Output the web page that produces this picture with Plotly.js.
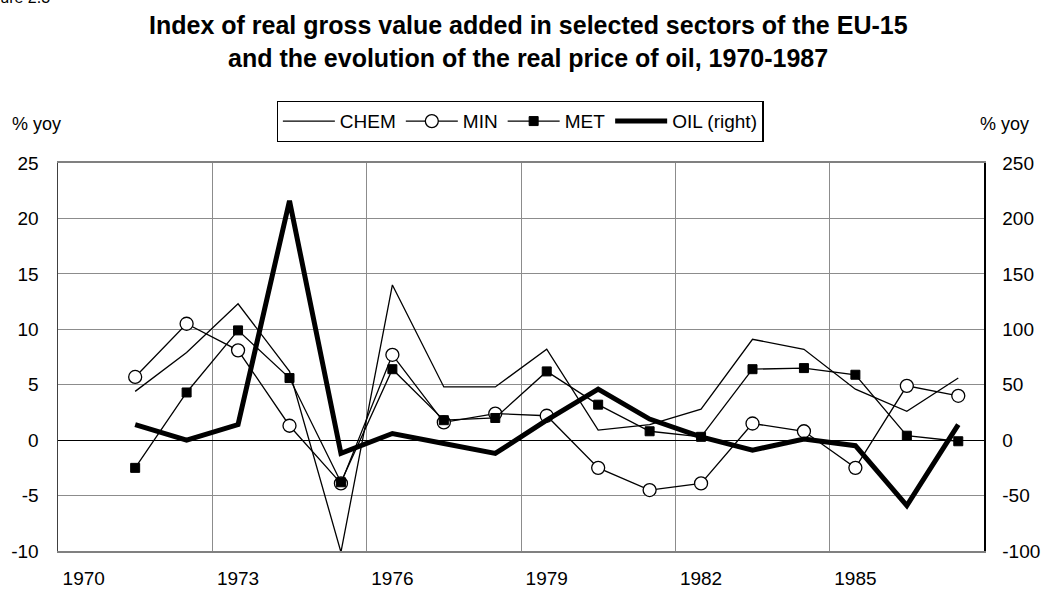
<!DOCTYPE html>
<html>
<head>
<meta charset="utf-8">
<script src="https://cdn.plot.ly/plotly-3.0.1.min.js"></script>
<style>html,body{margin:0;padding:0;background:#fff;}#chart{width:1044px;height:589px;}</style>
</head>
<body>
<div id="chart"></div>
<script>
const years = [1971,1972,1973,1974,1975,1976,1977,1978,1979,1980,1981,1982,1983,1984,1985,1986,1987];
const chem = [4.4,7.9,12.3,6.2,-10.1,14.0,4.8,4.8,8.2,0.9,1.4,2.8,9.1,8.2,4.6,2.6,5.6];
const minr = [5.7,10.5,8.1,1.3,-3.9,7.7,1.6,2.4,2.2,-2.5,-4.5,-3.9,1.5,0.8,-2.5,4.9,4.0];
const met  = [-2.5,4.3,9.9,5.6,-3.8,6.4,1.8,2.0,6.2,3.2,0.8,0.3,6.4,6.5,5.9,0.4,-0.1];
const oil  = [14,0,14,216,-12,6,-3,-12,18,46,19,3,-9,1,-5,-59,14];
const xTickVals = [1970,1973,1976,1979,1982,1985];
const xTickText = ['1970','1973','1976','1979','1982','1985'];
const yTickVals = [-10,-5,0,5,10,15,20,25];
const yTickText = ['-10','-5','0','5','10','15','20','25'];
const y2TickVals = [-100,-50,0,50,100,150,200,250];
const y2TickText = ['-100','-50','0','50','100','150','200','250'];
const seriesNames = ['CHEM','MIN','MET','OIL (right)'];

const FONT = 'Liberation Sans, Arial, sans-serif';
const traces = [
  {x: years, y: chem, name: seriesNames[0], type: 'scatter', mode: 'lines',
   line: {color: '#000', width: 1.3}, legendrank: 1},
  {x: years, y: minr, name: seriesNames[1], type: 'scatter', mode: 'lines+markers',
   line: {color: '#000', width: 1.3},
   marker: {symbol: 'circle', size: 13, color: '#fff', line: {color: '#000', width: 1.3}}, legendrank: 2},
  {x: years, y: met, name: seriesNames[2], type: 'scatter', mode: 'lines+markers',
   line: {color: '#000', width: 1.3},
   marker: {symbol: 'square', size: 9, color: '#000', line: {color: '#000', width: 1}}, legendrank: 3},
  {x: years, y: oil, name: seriesNames[3], type: 'scatter', mode: 'lines', xaxis: 'x2', yaxis: 'y2',
   line: {color: '#000', width: 5}, legendrank: 4}
];

const layout = {
  width: 1044, height: 589,
  margin: {l: 58, r: 60, t: 163, b: 38},
  paper_bgcolor: '#fff', plot_bgcolor: '#fff',
  font: {family: FONT, size: 18, color: '#000'},
  showlegend: true,
  legend: {orientation: 'h', x: 0.499, xanchor: 'center', y: 1.16, yanchor: 'top',
           bordercolor: '#000', borderwidth: 1.3, bgcolor: '#fff',
           font: {family: FONT, size: 19, color: '#000'}, itemwidth: 52, tracegroupgap: 0},
  xaxis: {range: [1969.5, 1987.5], tickmode: 'array', tickvals: xTickVals, ticktext: xTickText,
          showgrid: false, zeroline: false, showline: true, linecolor: '#808080', linewidth: 2,
          ticks: '', ticklabelstandoff: 9, tickfont: {family: FONT, size: 19}},
  xaxis2: {overlaying: 'x', anchor: 'y2', side: 'top', range: [1969.5, 1987.5],
           tickmode: 'linear', tick0: 1972.5, dtick: 3, showgrid: true, gridcolor: '#8c8c8c', gridwidth: 1,
           showticklabels: false, ticks: '', zeroline: false, showline: true, linecolor: '#808080', linewidth: 2},
  yaxis: {range: [-10, 25], tickmode: 'array', tickvals: yTickVals, ticktext: yTickText, showgrid: true,
          gridcolor: '#8c8c8c', gridwidth: 1, zeroline: true, zerolinecolor: '#000', zerolinewidth: 1,
          showline: true, linecolor: '#404040', linewidth: 1.5, ticks: '', ticklabelstandoff: 14,
          tickfont: {family: FONT, size: 19}},
  yaxis2: {overlaying: 'y', side: 'right', anchor: 'x2', range: [-100, 250], tickmode: 'array',
           tickvals: y2TickVals, ticktext: y2TickText,
           showgrid: false, zeroline: false, showline: true, linecolor: '#000', linewidth: 1.5,
           ticks: '', ticklabelstandoff: 13, tickfont: {family: FONT, size: 19}},
  annotations: [
    {text: '<b>Index of real gross value added in selected sectors of the EU-15</b>', xref: 'paper', yref: 'paper',
     x: 0.508, y: (551-25)/388, xanchor: 'center', yanchor: 'middle', showarrow: false,
     font: {family: FONT, size: 25, color: '#000'}},
    {text: '<b>and the evolution of the real price of oil, 1970-1987</b>', xref: 'paper', yref: 'paper',
     x: 0.508, y: (551-58)/388, xanchor: 'center', yanchor: 'middle', showarrow: false,
     font: {family: FONT, size: 25, color: '#000'}},
    {text: '% yoy', xref: 'paper', yref: 'paper', x: (10-58)/926, y: (551-124)/388,
     xanchor: 'left', yanchor: 'middle', showarrow: false, font: {family: FONT, size: 18}},
    {text: '% yoy', xref: 'paper', yref: 'paper', x: (1031-58)/926, y: (551-124)/388,
     xanchor: 'right', yanchor: 'middle', showarrow: false, font: {family: FONT, size: 18}},
    {text: 'Figure 2.3', xref: 'paper', yref: 'paper', x: (52-58)/926, y: (551+2)/388,
     xanchor: 'right', yanchor: 'middle', showarrow: false, font: {family: FONT, size: 16}}
  ]
};

Plotly.newPlot('chart', traces, layout, {displayModeBar: false, staticPlot: true});
</script>
</body>
</html>
